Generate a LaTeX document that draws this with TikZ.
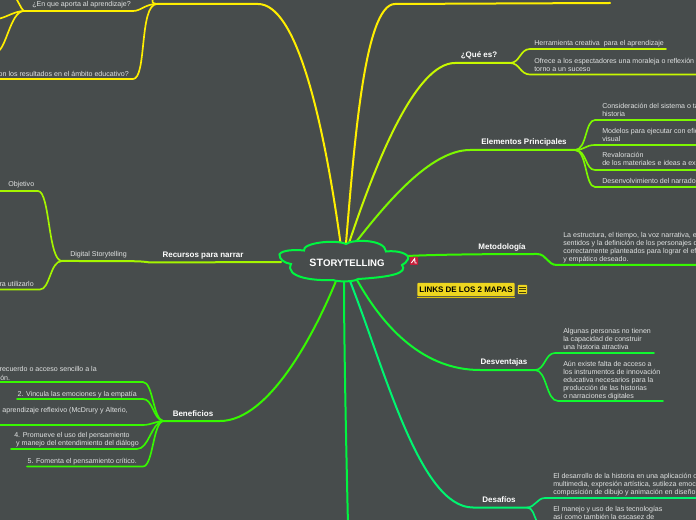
\documentclass[tikz,border=0pt]{standalone}
\usepackage{fontspec}
\setmainfont{Liberation Sans}
\usepackage{xcolor}
\usetikzlibrary{positioning}
\definecolor{bgmap}{RGB}{71,76,76}
\definecolor{soft}{RGB}{224,226,226}
\definecolor{yellowb}{RGB}{255,238,0}
\definecolor{limeb}{RGB}{200,248,0}
\definecolor{leafb}{RGB}{165,245,0}
\definecolor{greena}{RGB}{125,248,0}
\definecolor{greenb}{RGB}{55,248,0}
\definecolor{greenc}{RGB}{16,248,48}
\definecolor{greend}{RGB}{0,245,112}
\definecolor{greene}{RGB}{0,245,64}
\definecolor{linkbox}{RGB}{238,214,32}
\definecolor{linkline}{RGB}{214,190,16}
\definecolor{flagred}{RGB}{196,30,58}

\begin{document}
\begin{tikzpicture}[x=0.75pt,y=-0.75pt,
  branch/.style={line width=1.5pt,line cap=round},
  twig/.style={line width=1.25pt,line cap=round},
  topic/.style={font=\fontsize{6}{7}\selectfont\bfseries,text=white,inner sep=0pt,yshift=-0.5pt},
  leaf/.style={font=\fontsize{5.3}{6}\selectfont,text=soft,inner sep=0pt,align=left,anchor=west,yshift=-0.5pt},
  leafr/.style={font=\fontsize{5.3}{6}\selectfont,text=soft,inner sep=0pt,anchor=east,yshift=-0.5pt}
]
  \fill[bgmap] (0,0) rectangle (696,520);
  \useasboundingbox (0,0) rectangle (696,520);
  \clip (0,0) rectangle (696,520);

  % anchors on the cloud
  \coordinate (rootya) at (340.5,243);
  \coordinate (rootyb) at (346,243);
  \coordinate (rootqe) at (349,243);
  \coordinate (rootel) at (356,242);
  \coordinate (rootme) at (408,256);
  \coordinate (rootde) at (357,280);
  \coordinate (rootdf) at (350,281);
  \coordinate (rootbt) at (344,281);
  \coordinate (rootbe) at (336,281);
  \coordinate (rootre) at (281,262);

  % yellow, left
  \coordinate (apo) at (157,4);
  \coordinate (apoa) at (133,11);
  \coordinate (apob) at (24,11);
  \coordinate (apoc) at (133,79);
  \draw[branch,yellowb] (rootya) .. controls (322,110) and (295,4) .. (258,4) -- (apo);
  \draw[twig,yellowb] (apo) .. controls +(-5,-1) .. (153,-2);
  \draw[twig,yellowb] (apo) .. controls +(-12,0) and +(8,0) .. (apoa) -- (apob);
  \draw[twig,yellowb] (apo) .. controls +(-18,0) and +(14,0) .. (apoc) -- (-5,79);
  \draw[twig,yellowb] (apob) .. controls +(-4,-3) and +(3,0) .. (14,-3);
  \draw[twig,yellowb] (apob) .. controls +(-10,0) and +(8,0) .. (-4,19);
  \draw[twig,yellowb] (apob) .. controls +(-14,0) and +(10,0) .. (-4,52);
  \node[leaf] (apotext) at (32,4.5) {¿En que aporta al aprendizaje?};
  \node[leafr] (restext) at (129,73.5) {on los resultados en el ámbito educativo?};

  % yellow, right
  \coordinate (top) at (395,4);
  \draw[branch,yellowb] (rootyb) .. controls (354,150) and (364,4) .. (top) -- (497,3.5) -- (610,3);

  % que es
  \coordinate (que) at (510,63);
  \coordinate (quea) at (530,49);
  \coordinate (queb) at (530,74.5);
  \draw[branch,limeb] (rootqe) .. controls (375,165) and (415,63) .. (455,63) -- (que);
  \draw[twig,limeb] (que) .. controls +(10,0) and +(-10,0) .. (quea) -- (666,49);
  \draw[twig,limeb] (que) .. controls +(10,0) and +(-10,0) .. (queb) -- (700,74.5);
  \node[topic] (quetext) at (479,55) {¿Qué es?};
  \node[leaf] (queatext) at (534,43.5) {Herramienta creativa\ \ para el aprendizaje};
  \node[leaf] (quebtext) at (534,64.3) {Ofrece a los espectadores una moraleja o reflexión e\\torno a un suceso};

  % elementos
  \coordinate (ele) at (575,150);
  \coordinate (elea) at (595,120);
  \coordinate (eleb) at (595,145);
  \coordinate (elec) at (595,170);
  \coordinate (eled) at (595,187);
  \draw[branch,greena] (rootel) .. controls (385,205) and (430,150) .. (470,150) -- (ele);
  \draw[twig,greena] (ele) .. controls +(12,0) and +(-10,0) .. (elea) -- (700,120);
  \draw[twig,greena] (ele) .. controls +(10,0) and +(-10,0) .. (eleb) -- (700,145);
  \draw[twig,greena] (ele) .. controls +(12,0) and +(-10,0) .. (elec) -- (700,170);
  \draw[twig,greena] (ele) .. controls +(12,0) and +(-10,0) .. (eled) -- (700,187);
  \node[topic] (eletext) at (524,142) {Elementos Principales};
  \node[leaf] (eleatext) at (602,109) {Consideración del sistema o ta\\historia};
  \node[leaf] (elebtext) at (602,134) {Modelos para ejecutar con efic\\visual};
  \node[leaf] (electext) at (602,159) {Revaloración\\de los materiales e ideas a exp};
  \node[leaf] (eledtext) at (602,180) {Desenvolvimiento del narrador};

  % metodologia
  \coordinate (met) at (537,254);
  \coordinate (meta) at (557,265);
  \draw[branch,greenb] (rootme) .. controls (425,255) and (470,254) .. (met) .. controls +(10,0) and +(-10,0) .. (meta) -- (700,265);
  \node[topic] (mettext) at (502,247) {Metodología};
  \node[leaf] (metatext) at (563,247) {La estructura, el tiempo, la voz narrativa, el\\sentidos y la definición de los personajes d\\correctamente planteados para lograr el efe\\y empático deseado.};

  % desventajas
  \coordinate (des) at (535,370);
  \coordinate (desa) at (555,353);
  \coordinate (desb) at (558,401);
  \draw[branch,greenc] (rootde) .. controls (385,330) and (425,370) .. (480,370) -- (des);
  \draw[twig,greenc] (des) .. controls +(10,0) and +(-10,0) .. (desa) -- (654,353);
  \draw[twig,greenc] (des) .. controls +(12,0) and +(-12,0) .. (desb) -- (663,401);
  \node[topic] (destext) at (504,362) {Desventajas};
  \node[leaf] (desatext) at (563,338.5) {Algunas personas no tienen\\la capacidad de construir\\una historia atractiva};
  \node[leaf] (desbtext) at (563,379.5) {Aún existe falta de acceso a\\los instrumentos de innovación\\educativa necesarios para la\\producción de las historias\\o narraciones digitales};

  % desafios
  \coordinate (daf) at (527,507.5);
  \coordinate (dafa) at (545,498);
  \draw[branch,greend] (rootdf) .. controls (385,370) and (420,507.5) .. (473,507.5) -- (daf);
  \draw[twig,greend] (daf) .. controls +(8,0) and +(-8,0) .. (dafa) -- (700,498);
  \draw[twig,greend] (daf) .. controls +(6,0) and +(-3,-6) .. (537,522);
  \node[topic] (daftext) at (499,499) {Desafíos};
  \node[leaf] (dafatext) at (553,483.5) {El desarrollo de la historia en una aplicación o\\multimedia, expresión artística, sutileza emoci\\composición de dibujo y animación en diseño};
  \node[leaf] (dafbtext) at (553,512.5) {El manejo y uso de las tecnologías\\así como también la escasez de};

  % hacia abajo
  \draw[branch,greene] (rootbt) .. controls (344,340) and (346,440) .. (348,525);

  % beneficios
  \coordinate (ben) at (163,421);
  \coordinate (bena) at (143,382);
  \coordinate (benb) at (143,399);
  \coordinate (benc) at (143,425);
  \coordinate (bend) at (137,449);
  \coordinate (bene) at (143,466.5);
  \draw[branch,greenb] (rootbe) .. controls (316,330) and (270,421) .. (220,421) -- (ben);
  \draw[twig,greenb] (ben) .. controls +(-10,-2) and +(10,0) .. (bena) -- (-5,382);
  \draw[twig,greenb] (ben) .. controls +(-10,-2) and +(10,0) .. (benb) -- (17,399);
  \draw[twig,greenb] (ben) .. controls +(-6,0) and +(8,0) .. (benc) -- (-5,425);
  \draw[twig,greenb] (ben) .. controls +(-12,2) and +(12,0) .. (bend) -- (11,449);
  \draw[twig,greenb] (ben) .. controls +(-10,2) and +(10,0) .. (bene) -- (27,466.5);
  \node[topic] (bentext) at (193,413) {Beneficios};
  \node[leafr] (benatext) at (97,368.5) {recuerdo o acceso sencillo a la};
  \node[leaf] (benaatext) at (0,377) {ón.};
  \node[leafr] (benbtext) at (137,393.5) {2. Vincula las emociones y la empatía};
  \node[leafr] (benctext) at (128,410.5) {l aprendizaje reflexivo (McDrury y Alterio,};
  \node[leaf] (bendtext) at (14,439) {4. Promueve el uso del pensamiento\\\ y manejo del entendimiento del diálogo};
  \node[leafr] (benetext) at (137,461) {5. Fomenta el pensamiento crítico.};

  % recursos
  \coordinate (dig) at (62,261);
  \coordinate (diga) at (38,191);
  \coordinate (digb) at (40,289.5);
  \draw[branch,leafb] (rootre) -- (150,262.5) .. controls (140,261) .. (dig);
  \draw[twig,leafb] (dig) .. controls +(-14,0) and +(12,0) .. (diga) -- (-5,191);
  \draw[twig,leafb] (dig) .. controls +(-12,0) and +(10,0) .. (digb) -- (-5,289.5);
  \node[topic] (rectext) at (203,254.5) {Recursos para narrar};
  \node[leaf] (digtext) at (70,254.5) {Digital Storytelling};
  \node[leaf] (digatext) at (8,184.5) {Objetivo};
  \node[leafr] (digbtext) at (34,283.5) {ra utilizarlo};

  % cloud
  \draw[line width=1.5pt,greene,fill=bgmap] (279.5,254.3) .. controls (282,250) and (295,249.5) .. (304,250.5)
    .. controls (302,243) and (335,239) .. (346,244)
    .. controls (352,239) and (385,239) .. (386,251.5)
    .. controls (398,250) and (410,254) .. (408,259) .. controls (407,262) and (404,264) .. (402,265)
    .. controls (408,273) and (392,277) .. (358,279)
    .. controls (354,282) and (338,282) .. (333,280)
    .. controls (312,281) and (285,277) .. (291,264)
    .. controls (284,263) and (279,259) .. (279.5,254.3) -- cycle;
  \node[font=\bfseries,text=white,inner sep=0pt] (root) at (347,263.3)
    {\fontsize{8}{9}\selectfont ST\fontsize{7.2}{9}\selectfont ORYTELLING};

  % link and its marks
  \node[fill=flagred,minimum size=6pt,inner sep=0pt,rounded corners=0.5pt] (flag) at (414,261) {};
  \draw[white,line width=0.7pt] ([shift={(-2pt,-1.5pt)}]flag.center) -- ([shift={(0.5pt,1.8pt)}]flag.center) -- ([shift={(0.8pt,-1.5pt)}]flag.center) -- ([shift={(2.2pt,-1.5pt)}]flag.center);
  \node[fill=linkbox,minimum width=73pt,minimum height=10pt,inner sep=0pt,rounded corners=0.7pt,
    font=\fontsize{6}{7}\selectfont\bfseries,text=black] (links) at (466,289.5) {LINKS DE LOS 2 MAPAS};
  \draw[linkline,line width=0.8pt] ([yshift=-0.5pt]links.south west) -- ([yshift=-0.5pt]links.south east);
  \node[fill=linkbox,minimum size=7pt,inner sep=0pt,rounded corners=0.7pt,right=2pt of links] (notes) {};
  \foreach \yy in {-2,0,2}
    \draw[black!70!linkbox,line width=0.4pt] ([shift={(-2.5pt,\yy pt)}]notes.center) -- ([shift={(2.5pt,\yy pt)}]notes.center);
\end{tikzpicture}
\end{document}
